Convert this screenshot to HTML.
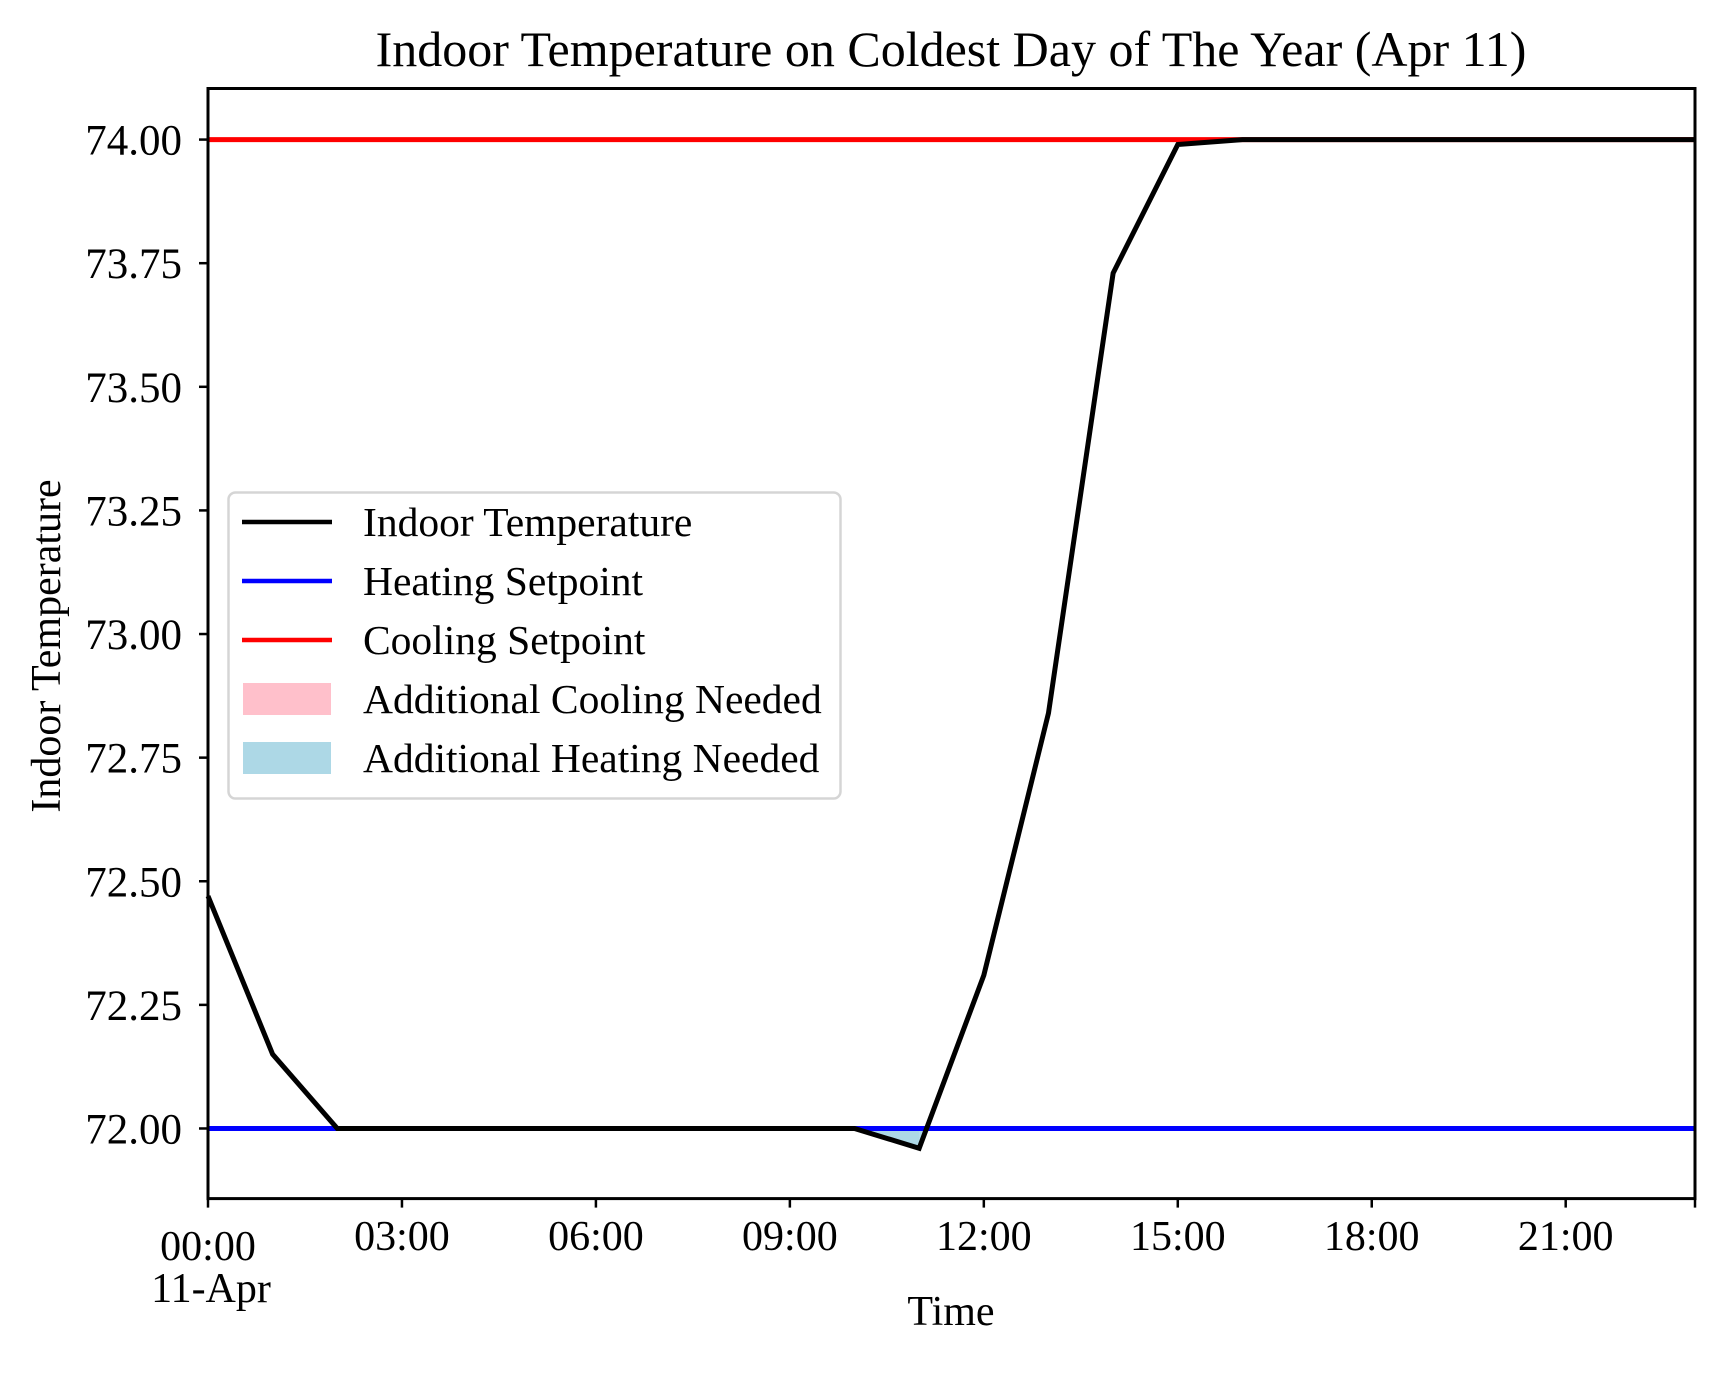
<!DOCTYPE html>
<html><head><meta charset="utf-8"><style>
html,body{margin:0;padding:0;background:#fff;}
svg{display:block;font-family:"Liberation Serif","Times New Roman",serif;}
</style></head><body>
<svg id="chart" width="1725" height="1394" viewBox="0 0 1725 1394" xmlns="http://www.w3.org/2000/svg">
<rect width="1725" height="1394" fill="#fff"/>
<text x="951" y="66" font-size="50" text-anchor="middle">Indoor Temperature on Coldest Day of The Year (Apr 11)</text>
<g id="plot"></g>
<text x="951" y="1325" font-size="42" text-anchor="middle">Time</text>
<text transform="translate(60,646) rotate(-90)" font-size="42" text-anchor="middle">Indoor Temperature</text>
<g>
<rect x="228.5" y="492.5" width="612" height="306" rx="7" fill="#fff" fill-opacity="0.8" stroke="#d5d5d5" stroke-width="2.5"/>
<g><line x1="242" x2="332" y1="522" y2="522" stroke="#000" stroke-width="4.5"/><text x="363" y="536" font-size="41.5">Indoor Temperature</text></g>
<g><line x1="242" x2="332" y1="581" y2="581" stroke="#0000ff" stroke-width="4.5"/><text x="363" y="595" font-size="41.5">Heating Setpoint</text></g>
<g><line x1="242" x2="332" y1="640" y2="640" stroke="#ff0000" stroke-width="4.5"/><text x="363" y="654" font-size="41.5">Cooling Setpoint</text></g>
<g><rect x="243" y="683" width="88" height="32" fill="#ffc0cb"/><text x="363" y="713" font-size="41.5">Additional Cooling Needed</text></g>
<g><rect x="243" y="742" width="88" height="32" fill="#add8e6"/><text x="363" y="772" font-size="41.5">Additional Heating Needed</text></g>
</g>
</svg>
<script>
const hours = [0,1,2,3,4,5,6,7,8,9,10,11,12,13,14,15,16,17,18,19,20,21,22,23];
const indoorTemp = [72.47,72.15,72.0,72.0,72.0,72.0,72.0,72.0,72.0,72.0,72.0,71.96,72.31,72.84,73.73,73.99,74.0,74.0,74.0,74.0,74.0,74.0,74.0,74.0];
const heatingSetpoint = 72;
const coolingSetpoint = 74;
const yTicks = [72.00,72.25,72.50,72.75,73.00,73.25,73.50,73.75,74.00];
const xTickHours = [0,3,6,9,12,15,18,21];
const xTickLabels = ["00:00","03:00","06:00","09:00","12:00","15:00","18:00","21:00"];

const L=208,R=1695,T=88.5,B=1198.6;
const yMin=71.8582,yMax=74.1033,xMin=0,xMax=23;
const X=h=>L+(h-xMin)/(xMax-xMin)*(R-L);
const Y=v=>B-(v-yMin)/(yMax-yMin)*(B-T);
const NS="http://www.w3.org/2000/svg";
const plot=document.getElementById('plot');
function mk(tag,attrs){const e=document.createElementNS(NS,tag);for(const k in attrs)e.setAttribute(k,attrs[k]);plot.appendChild(e);return e;}

for(let i=0;i<hours.length-1;i++){
  const a=indoorTemp[i]-heatingSetpoint,b=indoorTemp[i+1]-heatingSetpoint;
  if(a<0||b<0){
    let x0=hours[i],x1=hours[i+1];
    let pts=[];
    if(a>=0){const t=a/(a-b);x0=hours[i]+t*(hours[i+1]-hours[i]);}
    if(b>=0){const t=a/(a-b);x1=hours[i]+t*(hours[i+1]-hours[i]);}
    pts.push([X(x0),Y(heatingSetpoint)]);
    if(a<0)pts.push([X(hours[i]),Y(indoorTemp[i])]);
    if(b<0)pts.push([X(hours[i+1]),Y(indoorTemp[i+1])]);
    pts.push([X(x1),Y(heatingSetpoint)]);
    const p=mk('polygon',{points:pts.map(q=>q.join(',')).join(' '),fill:'#add8e6'});
    
    
  }
  const c=indoorTemp[i]-coolingSetpoint,d=indoorTemp[i+1]-coolingSetpoint;
  if(c>0||d>0){
    const p=mk('polygon',{points:[[X(hours[i]),Y(coolingSetpoint)],[X(hours[i]),Y(Math.max(indoorTemp[i],coolingSetpoint))],[X(hours[i+1]),Y(Math.max(indoorTemp[i+1],coolingSetpoint))],[X(hours[i+1]),Y(coolingSetpoint)]].map(q=>q.join(',')).join(' '),fill:'#ffc0cb'});
    
    
  }
}
let hl=mk('line',{x1:X(xMin),x2:X(xMax),y1:Y(heatingSetpoint),y2:Y(heatingSetpoint),stroke:'#0000ff','stroke-width':5});


let cl=mk('line',{x1:X(xMin),x2:X(xMax),y1:Y(coolingSetpoint),y2:Y(coolingSetpoint),stroke:'#ff0000','stroke-width':5});


let tl=mk('polyline',{points:hours.map((h,i)=>X(h)+','+Y(indoorTemp[i])).join(' '),fill:'none',stroke:'#000','stroke-width':5,'stroke-linejoin':'miter'});



let fr=mk('rect',{x:L,y:T,width:R-L,height:B-T,fill:'none',stroke:'#000','stroke-width':3});



yTicks.forEach(v=>{
  const t=mk('line',{x1:L-9,x2:L,y1:Y(v),y2:Y(v),stroke:'#000','stroke-width':2.5});
  
  
  const s=mk('text',{x:L-26,y:Y(v)+15,'font-size':43,'text-anchor':'end'});
  s.textContent=v.toFixed(2);
  
  
});
xTickHours.forEach((h,i)=>{
  const t=mk('line',{x1:X(h),x2:X(h),y1:B,y2:B+9,stroke:'#000','stroke-width':2.5});
  
  
  const s=mk('text',{x:X(h),y:(i===0?1260:1250),'font-size':42,'text-anchor':'middle'});
  s.textContent=xTickLabels[i];
  
  
});
let et=mk('line',{x1:X(xMax),x2:X(xMax),y1:B,y2:B+9,stroke:'#000','stroke-width':2.5});


let dl=mk('text',{x:X(0)+3,y:1302,'font-size':42,'text-anchor':'middle'});
dl.textContent='11-Apr';


</script>
</body></html>
